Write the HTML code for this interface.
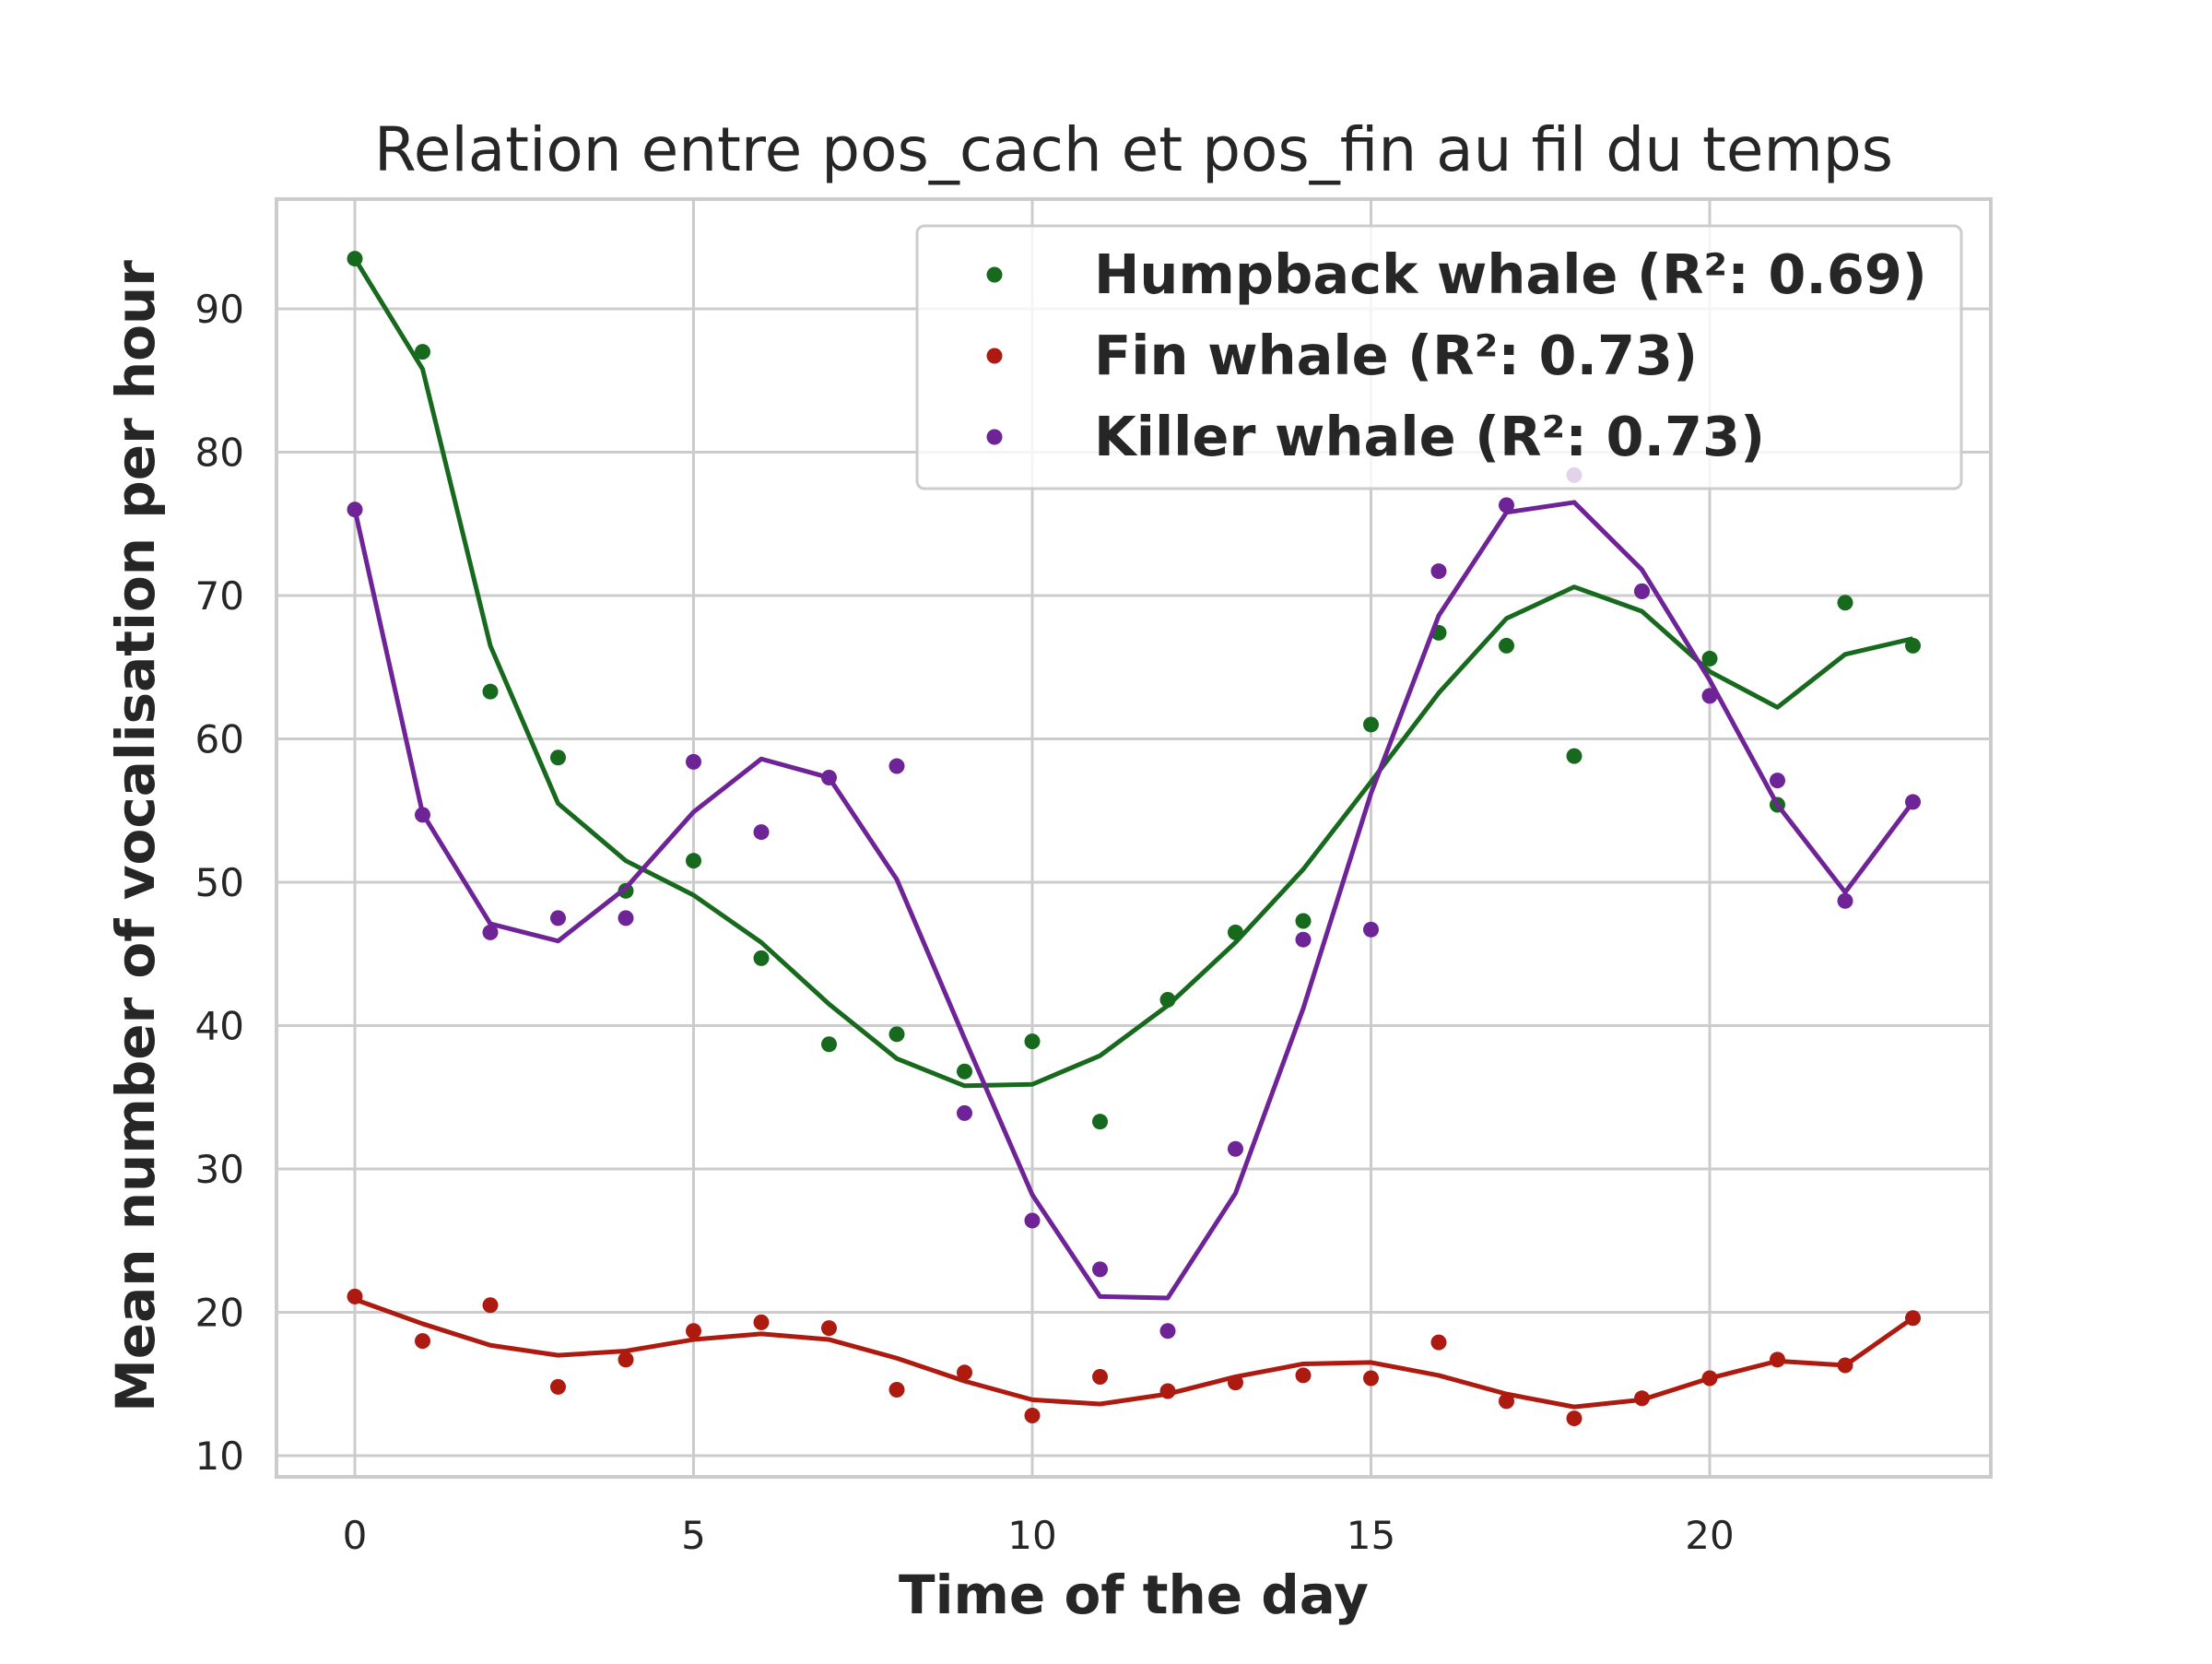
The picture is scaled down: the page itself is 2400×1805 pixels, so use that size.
<!DOCTYPE html>
<html><head><meta charset="utf-8"><style>
body{margin:0;background:#fff}
svg text{font-family:"DejaVu Sans","Liberation Sans",sans-serif;fill:#262626}
</style></head><body>
<svg id="chart" width="2400" height="1800" viewBox="0 0 2400 1800" xmlns="http://www.w3.org/2000/svg">
<rect width="2400" height="1800" fill="#fff"/>
<g id="grid"></g><g id="marks"></g><g id="ticks"></g>
<rect x="300" y="216" width="1860" height="1386" fill="none" stroke="#cccccc" stroke-width="4"/>
<text x="1230" y="185" font-size="66" text-anchor="middle">Relation entre pos_cach et pos_fin au fil du temps</text>
<text x="1230" y="1750" font-size="58" font-weight="bold" text-anchor="middle">Time of the day</text>
<text transform="translate(167,907) rotate(-90)" font-size="58" font-weight="bold" text-anchor="middle">Mean number of vocalisation per hour</text>
<g id="legend">
<rect x="995" y="245" width="1133" height="285" rx="8" fill="#fff" fill-opacity="0.8" stroke="#cccccc" stroke-width="3"/>
</g>
</svg>
<script>
const hours=[0,1,2,3,4,5,6,7,8,9,10,11,12,13,14,15,16,17,18,19,20,21,22,23];
const humpPts=[93.5,87,63.3,58.7,49.4,51.5,44.7,38.7,39.4,36.8,38.9,33.3,41.8,46.5,47.3,61,67.4,66.5,58.8,70.3,65.6,55.4,69.5,66.5];
const humpFit=[93.5,85.8,66.5,55.5,51.5,49.1,45.8,41.5,37.7,35.8,35.9,37.9,41.4,45.8,50.9,57,63.2,68.4,70.6,68.9,64.7,62.2,65.9,67];
const finPts=[21.1,18,20.5,14.8,16.7,18.7,19.3,18.9,14.6,15.8,12.8,15.5,14.5,15.1,15.6,15.4,17.9,13.8,12.6,14,15.4,16.7,16.3,19.6];
const finFit=[20.9,19.2,17.7,17,17.3,18.1,18.5,18.1,16.8,15.2,13.9,13.6,14.3,15.5,16.4,16.5,15.6,14.3,13.4,13.9,15.4,16.6,16.3,19.6];
const killerPts=[76,54.7,46.5,47.5,47.5,58.4,53.5,57.3,58.1,33.9,26.4,23,18.7,31.4,46,46.7,71.7,76.3,78.4,70.3,63,57.1,48.7,55.6];
const killerFit=[76,54.8,47.1,45.9,49.6,54.9,58.6,57.3,50.2,39.1,28.2,21.1,21,28.3,41.2,56.2,68.6,75.8,76.5,71.8,64.1,55.4,49.3,55.6];
const xTicks=[0,5,10,15,20];
const yTicks=[10,20,30,40,50,60,70,80,90];
const legendLabels=["Humpback whale (R²: 0.69)","Fin whale (R²: 0.73)","Killer whale (R²: 0.73)"];
const NS="http://www.w3.org/2000/svg";
const xs=v=>385+v*73.5;
const ys=v=>335+(90-v)*15.55;
function mk(tag,attrs,parent){const e=document.createElementNS(NS,tag);for(const k in attrs)e.setAttribute(k,attrs[k]);parent.appendChild(e);return e;}
const grid=document.getElementById('grid'),marks=document.getElementById('marks'),ticks=document.getElementById('ticks');
xTicks.forEach(t=>{
  const l=mk('line',{x1:xs(t),x2:xs(t),y1:216,y2:1602,stroke:'#cccccc','stroke-width':3},grid);
  
  
  const tx=mk('text',{x:xs(t),y:1680,'font-size':42,'text-anchor':'middle'},ticks);tx.textContent=t;
  
  
});
yTicks.forEach(t=>{
  const l=mk('line',{x1:300,x2:2160,y1:ys(t),y2:ys(t),stroke:'#cccccc','stroke-width':3},grid);
  
  
  const tx=mk('text',{x:265,y:ys(t)+15,'font-size':42,'text-anchor':'end'},ticks);tx.textContent=t;
  
  
});
const series=[[humpPts,humpFit,'#176a1d','humpback'],[finPts,finFit,'#ad1a10','fin'],[killerPts,killerFit,'#6e2397','killer']];
series.forEach(([pts,fit,c,n])=>{
  const p=mk('polyline',{points:hours.map((h,i)=>xs(h)+','+ys(fit[i])).join(' '),fill:'none',stroke:c,'stroke-width':5,'stroke-linejoin':'round'},marks);
  
  
  hours.forEach((h,i)=>{
    const d=mk('circle',{cx:xs(h),cy:ys(pts[i]),r:8.5,fill:c},marks);
    
    
  });
});
const lg=document.getElementById('legend');
legendLabels.forEach((lab,i)=>{
  const y=298+i*88;
  const d=mk('circle',{cx:1079,cy:y,r:8.5,fill:series[i][2]},lg);
  
  
  const t=mk('text',{x:1187,y:y+20,'font-size':59,'font-weight':'bold'},lg);t.textContent=lab;
  
  
});
</script>
</body></html>
